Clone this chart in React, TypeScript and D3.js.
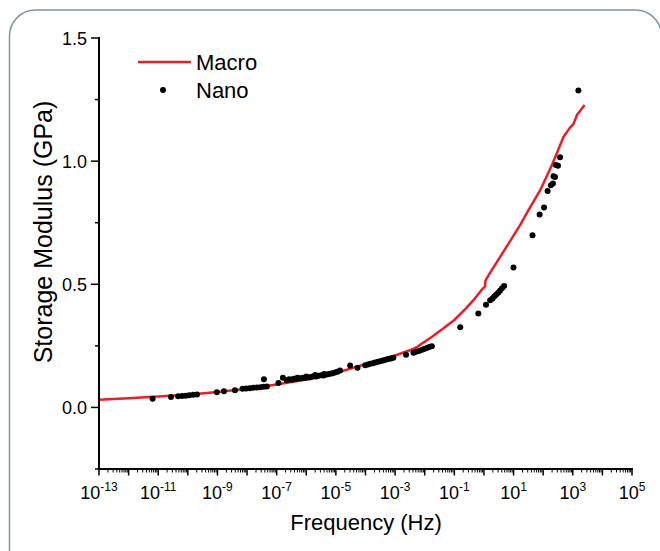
import React, { useEffect, useRef } from "react";
import * as d3 from "d3";

// Macro (DMA master curve): log10 frequency, storage modulus in GPa
const macroLogF = [
  -13.0, -12.0, -11.0, -10.0, -9.0, -8.0, -7.0, -6.0, -5.0, -4.0, -3.0, -2.5, -2.25, -2.15,
  -1.8, -1.4, -1.0, -0.6, -0.3, -0.1, 0.04, 0.05, 0.2, 0.44, 0.83, 1.22, 1.5, 1.9, 2.3, 2.69,
  2.9, 3.02, 3.14, 3.4,
];
const macroGPa = [
  0.031, 0.037, 0.044, 0.051, 0.063, 0.076, 0.093, 0.113, 0.14, 0.176, 0.211, 0.232, 0.246, 0.255,
  0.283, 0.318, 0.355, 0.403, 0.443, 0.474, 0.492, 0.515, 0.545, 0.591, 0.665, 0.74, 0.8, 0.882,
  0.985, 1.099, 1.135, 1.15, 1.187, 1.228,
];

// Nano (nanoindentation) points
const nanoLogF = [
  -11.19, -10.57,
  -10.33, -10.2, -10.07, -9.95, -9.82, -9.69,
  -9.02, -8.78, -8.41,
  -8.15, -8.03, -7.91, -7.79, -7.67, -7.55, -7.44, -7.33,
  -7.43, -6.94, -6.79,
  -6.66, -6.58, -6.5, -6.43, -6.35, -6.27, -6.2, -6.12, -6.04, -5.96, -5.89, -5.81, -5.73,
  -5.66, -5.58, -5.5, -5.42, -5.35, -5.27, -5.19, -5.11, -5.03, -4.95, -4.86,
  -6.3, -6.0, -5.7, -5.4,
  -4.52, -4.27,
  -4.01, -3.92, -3.84, -3.75, -3.67, -3.58, -3.5, -3.41, -3.32, -3.23, -3.14, -3.06,
  -2.63,
  -2.38, -2.29, -2.2, -2.11, -2.02, -1.93, -1.85, -1.76,
  -0.8, -0.19, 0.07,
  0.21, 0.28, 0.34, 0.41, 0.48, 0.54, 0.61, 0.68,
  0.997, 1.64, 1.88, 2.03, 2.15, 2.26, 2.33, 2.35, 2.4, 2.43, 2.5, 2.57, 3.19,
];
const nanoGPa = [
  0.035, 0.042,
  0.045, 0.046, 0.047, 0.049, 0.051, 0.053,
  0.062, 0.066, 0.07,
  0.076, 0.077, 0.078, 0.08, 0.081, 0.082, 0.084, 0.085,
  0.114, 0.099, 0.121,
  0.11, 0.114, 0.112, 0.116, 0.115, 0.118, 0.117, 0.12, 0.119, 0.123, 0.122, 0.125, 0.127,
  0.126, 0.129, 0.131, 0.13, 0.133, 0.135, 0.137, 0.139, 0.142, 0.145, 0.15,
  0.121, 0.126, 0.132, 0.136,
  0.17, 0.161,
  0.171, 0.174, 0.177, 0.179, 0.182, 0.185, 0.188, 0.191, 0.194, 0.197, 0.199, 0.202,
  0.214,
  0.222, 0.226, 0.229, 0.233, 0.237, 0.241, 0.245, 0.248,
  0.326, 0.381, 0.417,
  0.435, 0.441, 0.449, 0.458, 0.466, 0.474, 0.484, 0.493,
  0.568, 0.699, 0.783, 0.812, 0.879, 0.902, 0.909, 0.939, 0.936, 0.984, 0.981, 1.016, 1.287,
];

const xExponents = [-13, -11, -9, -7, -5, -3, -1, 1, 3, 5];
const yTickValues = [0.0, 0.5, 1.0, 1.5];

const FONT = "'Liberation Sans', Arial, Helvetica, sans-serif";

export default function App() {
  const ref = useRef<SVGSVGElement>(null);

  useEffect(() => {
    const svg = d3.select(ref.current);
    svg.selectAll("*").remove();

    const x = d3.scaleLog().domain([1e-13, 1e5]).range([99, 632]);
    const y = d3.scaleLinear().domain([-0.25, 1.5]).range([469, 38]);

    // rounded frame
    svg.append("rect")
      .attr("x", 9.5).attr("y", 10).attr("width", 652).attr("height", 620)
      .attr("rx", 26).attr("fill", "none")
      .attr("stroke", "#7d93a6").attr("stroke-width", 1.5);

    // macro line
    const macro = macroLogF.map((lf, i) => [Math.pow(10, lf), macroGPa[i]] as [number, number]);
    const line = d3.line<[number, number]>().x(d => x(d[0])).y(d => y(d[1]));
    svg.append("path")
      .attr("d", line(macro))
      .attr("fill", "none")
      .attr("stroke", "#ee1c24")
      .attr("stroke-width", 2.5)
      .attr("stroke-linejoin", "round");

    // nano points
    svg.append("g")
      .selectAll("circle")
      .data(nanoLogF.map((lf, i) => [Math.pow(10, lf), nanoGPa[i]]))
      .enter()
      .append("circle")
      .attr("cx", d => x(d[0]))
      .attr("cy", d => y(d[1]))
      .attr("r", 3)
      .attr("fill", "#000");

    // y axis
    const ya = svg.append("g").attr("stroke", "#000");
    ya.append("line")
      .attr("x1", x(1e-13)).attr("x2", x(1e-13))
      .attr("y1", y(1.5) - 1).attr("y2", y(-0.25) + 1)
      .attr("stroke-width", 2);
    d3.range(-0.25, 1.51, 0.25).forEach(v => {
      const major = Math.abs(v * 2 - Math.round(v * 2)) < 1e-6;
      ya.append("line")
        .attr("x1", x(1e-13)).attr("x2", x(1e-13) - (major ? 8 : 4))
        .attr("y1", y(v)).attr("y2", y(v))
        .attr("stroke-width", 1.5);
    });
    svg.append("g")
      .selectAll("text")
      .data(yTickValues)
      .enter()
      .append("text")
      .attr("x", 87)
      .attr("y", d => y(d) + 6.5)
      .attr("text-anchor", "end")
      .attr("font-family", FONT)
      .attr("font-size", 18)
      .attr("fill", "#000")
      .text(d => d3.format(".1f")(d));

    // x axis
    const xa = svg.append("g").attr("stroke", "#000");
    xa.append("line")
      .attr("x1", x(1e-13) - 1).attr("x2", x(1e5) + 1)
      .attr("y1", y(-0.25)).attr("y2", y(-0.25))
      .attr("stroke-width", 2);
    for (let e = -13; e <= 5; e++) {
      const base = Math.pow(10, e);
      xa.append("line")
        .attr("x1", x(base)).attr("x2", x(base))
        .attr("y1", y(-0.25)).attr("y2", y(-0.25) + 6.5)
        .attr("stroke-width", 1.5);
      if (e === 5) break;
      for (let m = 2; m <= 9; m++) {
        xa.append("line")
          .attr("x1", x(base * m)).attr("x2", x(base * m))
          .attr("y1", y(-0.25)).attr("y2", y(-0.25) + 3.5)
          .attr("stroke-width", 1);
      }
    }
    const xl = svg.append("g")
      .selectAll("text")
      .data(xExponents)
      .enter()
      .append("text")
      .attr("x", d => x(Math.pow(10, d)))
      .attr("y", 499)
      .attr("text-anchor", "middle")
      .attr("font-family", FONT)
      .attr("font-size", 18)
      .attr("fill", "#000");
    xl.append("tspan").text("10");
    xl.append("tspan").attr("dy", -8).attr("font-size", 12).text(d => String(d));

    // axis titles
    svg.append("text")
      .attr("x", 366).attr("y", 530)
      .attr("text-anchor", "middle")
      .attr("font-family", FONT).attr("font-size", 22)
      .text("Frequency (Hz)");
    svg.append("text")
      .attr("transform", "translate(52,232) rotate(-90)")
      .attr("text-anchor", "middle")
      .attr("font-family", FONT).attr("font-size", 25)
      .text("Storage Modulus (GPa)");

    // legend
    svg.append("line")
      .attr("x1", 138).attr("x2", 191).attr("y1", 62).attr("y2", 62)
      .attr("stroke", "#ee1c24").attr("stroke-width", 2.5);
    svg.append("text")
      .attr("x", 196).attr("y", 70)
      .attr("font-family", FONT).attr("font-size", 22)
      .text("Macro");
    svg.append("circle").attr("cx", 163).attr("cy", 90).attr("r", 3).attr("fill", "#000");
    svg.append("text")
      .attr("x", 196).attr("y", 98)
      .attr("font-family", FONT).attr("font-size", 22)
      .text("Nano");
  }, []);

  return (
    <svg
      ref={ref}
      width={660}
      height={551}
      style={{ position: "absolute", left: 0, top: 0, background: "#fff" }}
    />
  );
}
